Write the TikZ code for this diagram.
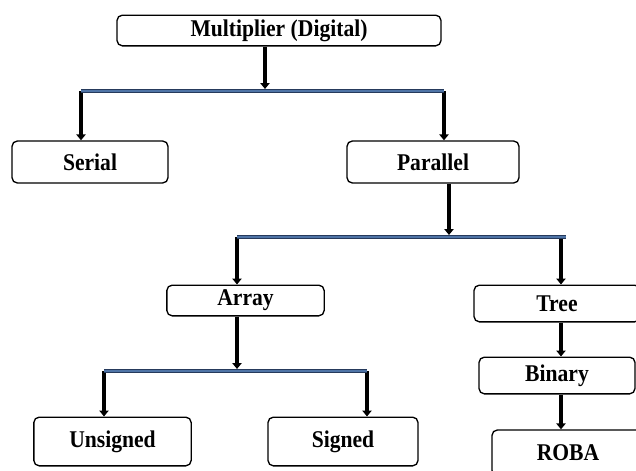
\documentclass[tikz,border=0pt]{standalone}
\usepackage{fontspec}
\setmainfont{Liberation Serif}
\newfontfamily\boxfont[FakeStretch=0.9]{Liberation Serif}
\usepackage{tikz}
\usetikzlibrary{arrows.meta}

\definecolor{barblue}{RGB}{79,116,166}
\definecolor{bardark}{RGB}{38,58,92}

\tikzset{
  blk/.style={draw, rounded corners=4pt, line width=1pt, inner sep=0pt,
    font=\boxfont\bfseries\fontsize{18}{20}\selectfont},
  arr/.style={line width=2.6pt, -{Triangle[width=7pt,length=4.5pt]}},
  hbar/.style={draw=bardark, line width=0.6pt, double=barblue, double distance=2pt}
}

\begin{document}
\begin{tikzpicture}[x=0.75pt,y=-0.75pt]
\useasboundingbox (0,0) rectangle (636,471);

\node[blk, minimum width=243pt, minimum height=23pt] (mult) at (279,30.5) {Multiplier (Digital)};
\node[blk, minimum width=117pt, minimum height=31.5pt] (serial) at (90,162) {Serial};
\node[blk, minimum width=129pt, minimum height=31.5pt] (par) at (433,162) {Parallel};
\node[blk, minimum width=118pt, minimum height=23pt] (array) at (245.5,300.5) {Array};
\node[blk, minimum width=124.5pt, minimum height=27.5pt] (tree) at (557,303.5) {Tree};
\node[blk, minimum width=117pt, minimum height=27.5pt] (binary) at (557,375.5) {Binary};
\node[blk, minimum width=114pt, minimum height=34.5pt] (roba) at (568,453) {ROBA};
\node[blk, minimum width=118pt, minimum height=36.5pt] (unsig) at (112.5,441.5) {Unsigned};
\node[blk, minimum width=112.5pt, minimum height=36.5pt] (sig) at (343,441.5) {Signed};

\coordinate (b1t) at (265,89);
\coordinate (b1l) at (81,91);
\coordinate (b1r) at (444,91);
\coordinate (b2t) at (449,235);
\coordinate (b2l) at (237,237);
\coordinate (b2r) at (566,237);
\coordinate (b2d) at (561,237);
\coordinate (b3t) at (237,369);
\coordinate (b3l) at (104,371);
\coordinate (b3r) at (367,371);

\draw[arr] (mult.south -| b1t) -- (b1t);
\draw[arr] (b1l) -- (b1l |- serial.north);
\draw[arr] (b1r) -- (b1r |- par.north);
\draw[hbar] (b1l) -- (b1r);

\draw[arr] (par.south -| b2t) -- (b2t);
\draw[arr] (b2l) -- (b2l |- array.north);
\draw[arr] (b2d) -- (b2d |- tree.north);
\draw[hbar] (b2l) -- (b2r);

\draw[arr] (array.south -| b3t) -- (b3t);
\draw[arr] (b3l) -- (b3l |- unsig.north);
\draw[arr] (b3r) -- (b3r |- sig.north);
\draw[hbar] (b3l) -- (b3r);

\draw[arr] (tree.south -| b2d) -- (b2d |- binary.north);
\draw[arr] (binary.south -| b2d) -- (b2d |- roba.north);
\end{tikzpicture}
\end{document}
